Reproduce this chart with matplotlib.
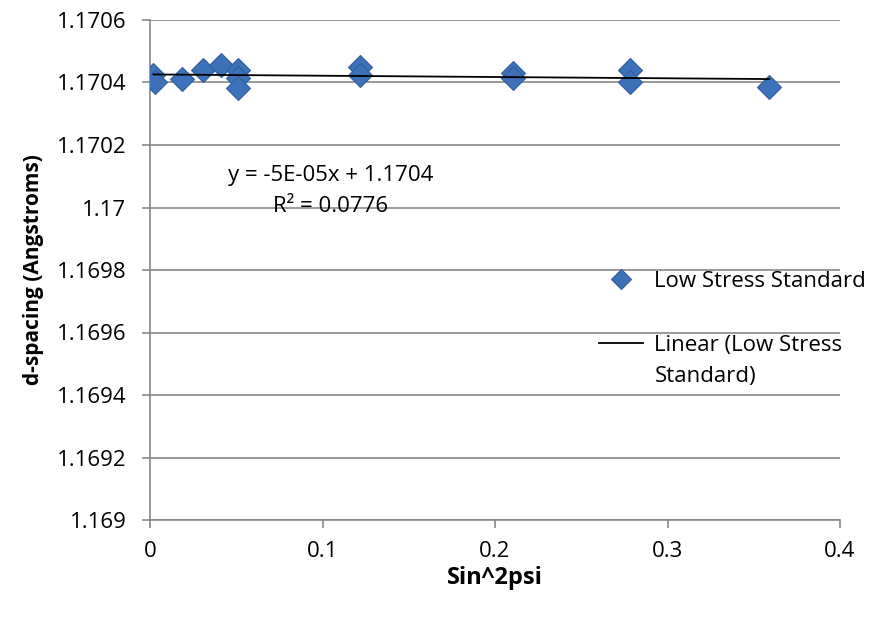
import numpy as np
import matplotlib
matplotlib.use("Agg")
import matplotlib.pyplot as plt

# data
sin2psi = [0.002, 0.003, 0.0186, 0.031, 0.041, 0.051, 0.051, 0.051,
           0.1217, 0.1217, 0.2104, 0.2104, 0.278, 0.278, 0.359]
d_spacing = [1.170424, 1.170400, 1.170411, 1.170440, 1.170456, 1.170440,
             1.170414, 1.170382, 1.170450, 1.170424, 1.170430, 1.170414,
             1.170440, 1.170402, 1.170385]
y_ticks = [1.169, 1.1692, 1.1694, 1.1696, 1.1698, 1.17, 1.1702, 1.1704, 1.1706]
y_tick_labels = ["1.169", "1.1692", "1.1694", "1.1696", "1.1698", "1.17",
                 "1.1702", "1.1704", "1.1706"]
x_ticks = [0, 0.1, 0.2, 0.3, 0.4]
x_tick_labels = ["0", "0.1", "0.2", "0.3", "0.4"]

plt.rcParams['font.family'] = ['Open Sans', 'DejaVu Sans']

W, H = 876, 619
fig = plt.figure(figsize=(W / 100, H / 100), dpi=100)
ax = fig.add_axes([150 / W, 1 - 520 / H, 690 / W, 500 / H])

grey = '#878787'
fs = 16

# gridlines
ax.set_ylim(1.169, 1.1706)
ax.set_xlim(0, 0.4)
ax.set_yticks(y_ticks)
ax.set_yticklabels(y_tick_labels)
ax.set_xticks(x_ticks)
ax.set_xticklabels(x_tick_labels)
ax.yaxis.grid(True, color=grey, linewidth=1.2)
ax.set_axisbelow(True)

for s in ['top', 'right']:
    ax.spines[s].set_visible(False)
for s in ['left', 'bottom']:
    ax.spines[s].set_color(grey)
    ax.spines[s].set_linewidth(1.2)
ax.tick_params(axis='both', direction='out', length=6, width=1.2, color=grey,
               labelsize=fs)
ax.tick_params(axis='y', pad=11)
ax.tick_params(axis='x', pad=9)

# scatter
ax.plot(sin2psi, d_spacing, linestyle='none', marker='D', markersize=12.5,
        markerfacecolor='#3D72BA', markeredgecolor='#2F5F9E', markeredgewidth=0.8,
        label='Low Stress Standard', zorder=3)

# linear trend line
slope, intercept = np.polyfit(sin2psi, d_spacing, 1)
xs = np.array([min(sin2psi), max(sin2psi)])
ax.plot(xs, slope * xs + intercept, color='black', linewidth=1.3,
        label='Linear (Low Stress', zorder=4)

ax.set_xlabel('Sin^2psi', fontsize=17, fontweight='bold', labelpad=3)
ax.set_ylabel('d-spacing (Angstroms)', fontsize=15, fontweight='bold', labelpad=9)

fig.text(331 / W, 1 - 175 / H, 'y = -5E-05x + 1.1704', fontsize=fs,
         ha='center', va='center')
fig.text(331 / W, 1 - 207 / H, 'R² = 0.0776', fontsize=fs,
         ha='center', va='center')

leg = ax.legend(loc='upper left', bbox_to_anchor=(590 / W, 1 - 262 / H),
                bbox_transform=fig.transFigure, frameon=False, fontsize=fs,
                handlelength=2.0, handletextpad=0.5, labelspacing=1.95,
                markerscale=0.8, borderaxespad=0)

# second line of the wrapped trend-line label
fig.canvas.draw()
bb = leg.get_texts()[1].get_window_extent()
fig.text(bb.x0 / W, (bb.y0 - 10) / H, 'Standard)', fontsize=fs,
         ha='left', va='top')

fig.savefig('out.png', dpi=100)
